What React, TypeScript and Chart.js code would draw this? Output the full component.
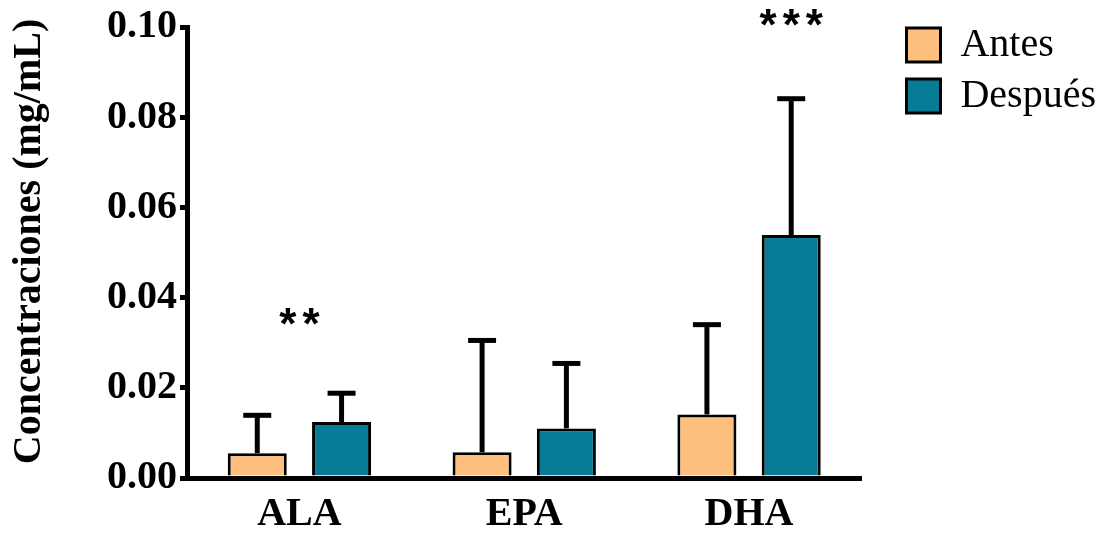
import React, { useEffect, useRef } from 'react';
import { Chart, registerables } from 'chart.js';

Chart.register(...registerables);

const categories = ['ALA', 'EPA', 'DHA'];
const seriesNames = ['Antes', 'Después'];
const antesValues = [0.0055, 0.0057, 0.0141];
const despuesValues = [0.0124, 0.011, 0.0539];
const antesErrors = [0.0084, 0.0248, 0.0199];
const despuesErrors = [0.0064, 0.0144, 0.0302];
const significanceLabels = ['**', '', '***'];
const significanceLevels = [0.0336, 0, 0.0999];
// -1: centre of the category group, otherwise index of the dataset
const significanceTargets = [-1, -1, 1];
const yAxisTitle = 'Concentraciones (mg/mL)';
const yMin = 0;
const yMax = 0.1;
const yStep = 0.02;

const FONT = "'Liberation Serif', 'Times New Roman', serif";
const SANS = "'Liberation Sans', Arial, sans-serif";
const FS = 40;

const errorBarPlugin = {
  id: 'errorBars',
  afterDatasetsDraw(chart: any) {
    const ctx = chart.ctx;
    const y = chart.scales.y;
    chart.data.datasets.forEach((ds: any, di: number) => {
      const meta = chart.getDatasetMeta(di);
      meta.data.forEach((bar: any, i: number) => {
        const top = y.getPixelForValue(ds.data[i] + ds.errors[i]);
        ctx.save();
        ctx.strokeStyle = '#000';
        ctx.lineWidth = 5;
        ctx.lineCap = 'butt';
        ctx.beginPath();
        ctx.moveTo(bar.x, bar.y);
        ctx.lineTo(bar.x, top);
        ctx.stroke();
        ctx.beginPath();
        ctx.moveTo(bar.x - 14, top);
        ctx.lineTo(bar.x + 14, top);
        ctx.stroke();
        ctx.restore();
      });
    });
  },
};

const significancePlugin = {
  id: 'significance',
  afterDraw(chart: any) {
    const ctx = chart.ctx;
    const x = chart.scales.x;
    const y = chart.scales.y;
    significanceLabels.forEach((label, i) => {
      if (!label) return;
      const target = significanceTargets[i];
      const px =
        target < 0
          ? x.getPixelForValue(i)
          : chart.getDatasetMeta(target).data[i].x;
      const py = y.getPixelForValue(significanceLevels[i]);
      const spacing = 6;
      ctx.save();
      ctx.fillStyle = '#000';
      ctx.font = `bold 44px ${SANS}`;
      (ctx as any).letterSpacing = `${spacing}px`;
      ctx.textAlign = 'center';
      ctx.textBaseline = 'middle';
      ctx.fillText(label, px + spacing / 2, py);
      ctx.restore();
    });
  },
};

const yTitlePlugin = {
  id: 'yTitle',
  afterDraw(chart: any) {
    const ctx = chart.ctx;
    const area = chart.chartArea;
    const cy = (area.top + area.bottom) / 2 - 11;
    ctx.save();
    ctx.fillStyle = '#000';
    ctx.font = `bold ${FS}px ${FONT}`;
    ctx.translate(40, cy);
    ctx.rotate(-Math.PI / 2);
    ctx.textAlign = 'center';
    ctx.textBaseline = 'alphabetic';
    ctx.fillText(yAxisTitle, 0, 0);
    ctx.restore();
  },
};

const legendShiftPlugin = {
  id: 'legendShift',
  afterLayout(chart: any) {
    const lg = chart.legend;
    if (!lg) return;
    const dx = 34;
    const dy = 12;
    lg.left += dx;
    lg.right += dx;
    lg.top += dy;
    lg.bottom += dy;
  },
};

export default function App() {
  const canvasRef = useRef<HTMLCanvasElement | null>(null);

  useEffect(() => {
    if (!canvasRef.current) return;
    const chart = new Chart(canvasRef.current, {
      type: 'bar',
      data: {
        labels: categories,
        datasets: [
          {
            label: seriesNames[0],
            data: antesValues,
            errors: antesErrors,
            backgroundColor: '#FFC07F',
            borderColor: '#000',
            borderWidth: 3,
            categoryPercentage: 0.75,
            barPercentage: 0.7,
          } as any,
          {
            label: seriesNames[1],
            data: despuesValues,
            errors: despuesErrors,
            backgroundColor: '#087C96',
            borderColor: '#000',
            borderWidth: 3,
            categoryPercentage: 0.75,
            barPercentage: 0.7,
          } as any,
        ],
      },
      options: {
        animation: false,
        responsive: false,
        maintainAspectRatio: false,
        layout: { padding: { top: 2, right: 30, bottom: 0, left: 0 } },
        plugins: {
          tooltip: { enabled: false },
          legend: {
            position: 'right',
            align: 'start',
            labels: {
              boxWidth: 34,
              boxHeight: 34,
              padding: 11,
              color: '#000',
              font: { family: FONT, size: FS },
            },
          },
        },
        scales: {
          x: {
            z: 1,
            grid: { display: false, drawTicks: false },
            border: { display: true, color: '#000', width: 5 },
            ticks: {
              color: '#000',
              padding: 13,
              font: { family: FONT, size: FS, weight: 'bold' },
            },
            afterFit: (s: any) => {
              s.height = 55;
            },
          },
          y: {
            z: 1,
            min: yMin,
            max: yMax,
            grid: {
              display: true,
              drawOnChartArea: false,
              drawTicks: true,
              tickLength: 7,
              color: '#000',
              lineWidth: 5,
            },
            border: { display: true, color: '#000', width: 5 },
            ticks: {
              stepSize: yStep,
              color: '#000',
              padding: 3,
              font: { family: FONT, size: FS, weight: 'bold' },
              callback: (v: any) => Number(v).toFixed(2),
            },
            title: { display: false },
            afterFit: (s: any) => {
              s.width = 187;
            },
          },
        },
      } as any,
      plugins: [errorBarPlugin, significancePlugin, yTitlePlugin, legendShiftPlugin],
    });
    return () => chart.destroy();
  }, []);

  return (
    <div style={{ position: 'fixed', left: 0, top: 0, width: 1102, height: 533, background: '#fff' }}>
      <canvas ref={canvasRef} width={1102} height={533} />
    </div>
  );
}
